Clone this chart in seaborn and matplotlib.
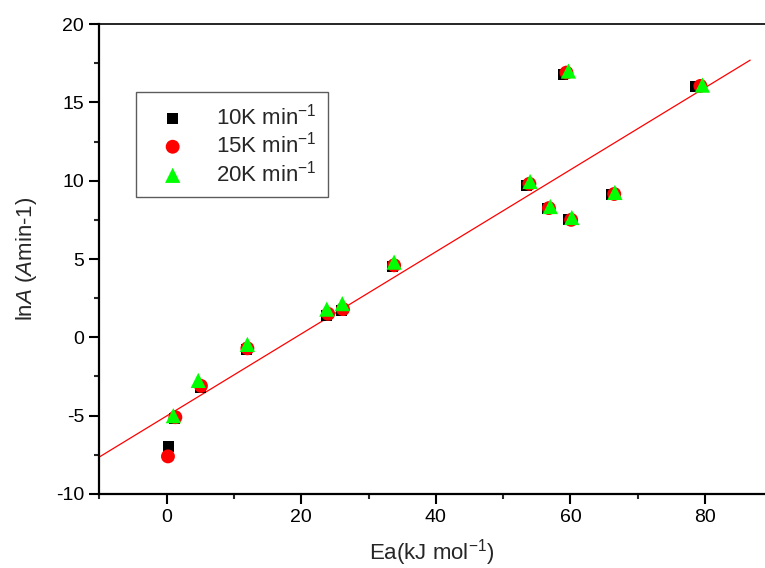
import numpy as np
import matplotlib
matplotlib.use("Agg")
import matplotlib.pyplot as plt
import seaborn as sns
import pandas as pd
from matplotlib.ticker import MultipleLocator

# ---- data ----
x10 = [0.3, 1.2, 5.0, 11.9, 23.8, 26.0, 33.6, 53.5, 56.5, 58.9, 59.7, 66.1, 78.5]
y10 = [-6.95, -5.2, -3.2, -0.8, 1.4, 1.7, 4.5, 9.7, 8.2, 16.8, 7.5, 9.1, 16.0]
x15 = [0.2, 1.3, 5.1, 12.0, 24.0, 26.2, 33.8, 53.9, 56.8, 59.4, 60.1, 66.5, 79.3]
y15 = [-7.6, -5.1, -3.1, -0.7, 1.5, 1.8, 4.6, 9.8, 8.25, 16.9, 7.5, 9.15, 16.05]
x20 = [1.0, 4.7, 12.0, 23.8, 26.1, 33.8, 54.0, 57.0, 59.7, 60.2, 66.6, 79.6]
y20 = [-5.0, -2.75, -0.45, 1.8, 2.15, 4.8, 9.95, 8.35, 17.0, 7.65, 9.25, 16.1]
series_labels = ["10K min$^{-1}$", "15K min$^{-1}$", "20K min$^{-1}$"]
fit_slope = 0.262
fit_intercept = -5.02
fit_range = [-10, 86.7]
x_ticks = [0, 20, 40, 60, 80]
y_ticks = [-10, -5, 0, 5, 10, 15, 20]

sns.set_style("ticks")
plt.rcParams['font.family'] = ['Liberation Sans', 'DejaVu Sans']
plt.rcParams['mathtext.fontset'] = 'custom'
plt.rcParams['mathtext.rm'] = 'Liberation Sans'
plt.rcParams['mathtext.it'] = 'Liberation Sans:italic'
plt.rcParams['mathtext.default'] = 'regular'
plt.rcParams['axes.unicode_minus'] = False

fig = plt.figure(figsize=(7.65, 5.68), dpi=100)
ax = fig.add_axes([0.1298, 0.1303, 1.0 - 0.1298, 0.9577 - 0.1303])

df10 = pd.DataFrame({"x": x10, "y": y10})
df15 = pd.DataFrame({"x": x15, "y": y15})
df20 = pd.DataFrame({"x": x20, "y": y20})

sns.scatterplot(data=df10, x="x", y="y", marker="s", color="black", s=60,
                edgecolor="none", ax=ax, label=series_labels[0], zorder=3)
sns.scatterplot(data=df15, x="x", y="y", marker="o", color="#ff0000", s=100,
                edgecolor="none", ax=ax, label=series_labels[1], zorder=4)
sns.scatterplot(data=df20, x="x", y="y", marker="^", color="#00ff00", s=120,
                edgecolor="none", ax=ax, label=series_labels[2], zorder=5)

fx = np.array(fit_range)
sns.lineplot(x=fx, y=fit_intercept + fit_slope * fx, color="#ff0000",
             linewidth=0.9, ax=ax, zorder=2)

ax.set_xlim(-10, 88.9)
ax.set_ylim(-10, 20)
ax.set_xticks(x_ticks)
ax.set_yticks(y_ticks)
ax.xaxis.set_minor_locator(MultipleLocator(10))
ax.yaxis.set_minor_locator(MultipleLocator(2.5))
ax.tick_params(axis='both', which='major', direction='out', length=7, width=1.5,
               labelsize=14, pad=4, colors='black')
ax.tick_params(axis='both', which='minor', direction='out', length=3.5, width=1.5)

for s in ['left', 'bottom']:
    ax.spines[s].set_linewidth(1.6)
    ax.spines[s].set_color('black')
ax.spines['top'].set_linewidth(1.2)
ax.spines['top'].set_color('black')
ax.spines['right'].set_visible(False)

ax.set_xlabel("Ea(kJ mol$^{-1}$)", fontsize=16, labelpad=8)
ax.set_ylabel("ln$\\mathit{A}$ ($\\mathit{A}$min-1)", fontsize=16, labelpad=12)

leg = ax.legend(loc='upper left', bbox_to_anchor=(136 / 765, 1 - 92 / 568),
                bbox_transform=fig.transFigure, fontsize=16, frameon=True,
                fancybox=False, edgecolor='#333333', borderpad=0.5,
                labelspacing=0.12, handletextpad=0.8, borderaxespad=0,
                handlelength=2.3, markerscale=1.0)
leg.get_frame().set_linewidth(1.0)

fig.savefig("out.png", dpi=100)
